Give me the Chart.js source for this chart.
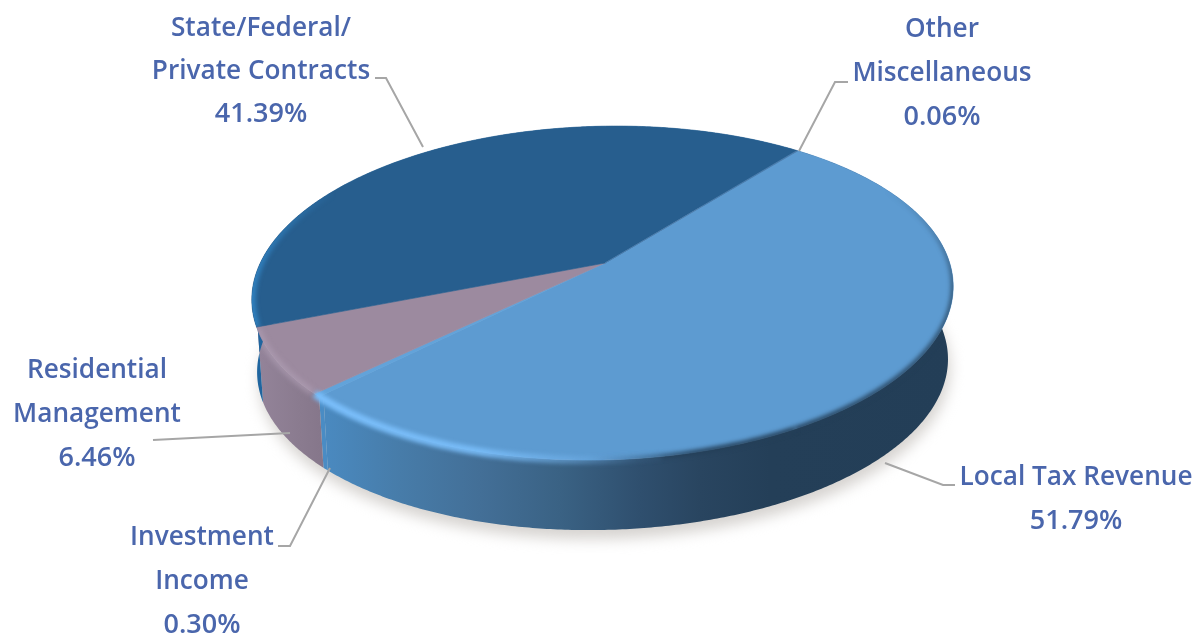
<!DOCTYPE html>
<html>
<head>
<meta charset="utf-8">
<title>Revenue by source</title>
<style>
    html, body { margin: 0; padding: 0; background: #ffffff; }
    canvas { display: block; }
</style>
<script src="https://cdn.jsdelivr.net/npm/chart.js@4"></script>
</head>
<body>
<canvas id="revenuePie" width="1202" height="636"></canvas>
<script>
/* ==========================================
        DATA
========================================== */

const categories = [
    ["Local Tax Revenue"],
    ["Investment", "Income"],
    ["Residential", "Management"],
    ["State/Federal/", "Private Contracts"],
    ["Other", "Miscellaneous"]
];

const shares = [51.79, 0.30, 6.46, 41.39, 0.06];

const faceColors = ["#5d9bd1", "#62a3da", "#9c8a9f", "#275e8e", "#4f7fae"];

/* ==========================================
        LABEL LAYOUT
========================================== */

const labelCenters = [1076, 202, 97, 261, 942];

const labelBaselines = [485, 545, 378, 36, 37];

const labelLineSteps = [44, 44, 44, 43, 44];

const leaderPaths = [
    [[955, 485], [943, 485], [885, 463]],
    [[278, 546], [290, 546], [330, 468]],
    [[153, 440], [290, 433]],
    [[375, 78], [386, 78], [423, 147]],
    [[848, 82], [835, 82], [799, 151]]
];

/* ==========================================
        DISC PROJECTION
========================================== */

const apexX = 605;
const apexY = 263;
const discRx = 344.7;
const discRy = 161.6;
const discSkew = -13.4;
const tilt = 0.18;

const wallDrop = 73;
const wallShrink = 0.985;

const rad = Math.PI / 180;

// the bevel pulls the wall seams back a little from the face seams
const wallAngleShift = -1.1 * rad;

function project(angle) {

    const c = Math.cos(angle);
    const s = Math.sin(angle);
    const w = 1 - tilt * s;

    return [
        apexX + (discRx * c + discSkew * s) / w,
        apexY + discRy * s / w
    ];

}

function projectBottom(angle) {

    const p = project(angle);

    return [
        apexX + (p[0] - apexX) * wallShrink,
        apexY + (p[1] - apexY) * wallShrink + wallDrop
    ];

}

function traceRim(ctx, from, to, pointAt, move) {

    const steps = Math.max(2, Math.ceil(Math.abs(to - from) / (0.5 * rad)));

    for (let i = 0; i <= steps; i++) {

        const p = pointAt(from + (to - from) * i / steps);

        if (i === 0 && move) {
            ctx.moveTo(p[0], p[1]);
        } else {
            ctx.lineTo(p[0], p[1]);
        }

    }

}

function xGradient(ctx, stops) {

    const g = ctx.createLinearGradient(250, 0, 955, 0);

    stops.forEach(s => g.addColorStop((s[0] - 250) / 705, s[1]));

    return g;

}

/* ==========================================
        DRAW PARTS
========================================== */

function drawShadow(ctx) {

    ctx.save();
    ctx.filter = "blur(7px)";
    ctx.fillStyle = "#d6d3d0";
    ctx.beginPath();
    traceRim(ctx, 0, Math.PI * 2, a => {
        const p = projectBottom(a);
        return [p[0] + 2, p[1] + 9];
    }, true);
    ctx.closePath();
    ctx.fill();
    ctx.restore();

}

function wallFill(ctx, index) {

    if (index === 0) {
        return xGradient(ctx, [
            [328, "#4a89bf"],
            [400, "#477ca9"],
            [480, "#436f97"],
            [560, "#3a6284"],
            [640, "#2f4f6e"],
            [700, "#294560"],
            [770, "#243f58"],
            [955, "#233e57"]
        ]);
    }

    if (index === 1) {
        return "#4a8cc4";
    }

    if (index === 2) {
        return xGradient(ctx, [
            [255, "#94849a"],
            [300, "#8a7b8f"],
            [330, "#847589"]
        ]);
    }

    if (index === 3) {
        return "#1f659f";
    }

    return faceColors[index];

}

function drawWalls(ctx, arcs) {

    arcs.forEach((arc, i) => {

        const from = arc.startAngle + wallAngleShift;
        const to = arc.endAngle + wallAngleShift;

        ctx.beginPath();
        traceRim(ctx, from, to, project, true);
        traceRim(ctx, to, from, projectBottom, false);
        ctx.closePath();
        ctx.fillStyle = wallFill(ctx, i);
        ctx.fill();

    });

}

function drawFaces(ctx, arcs) {

    arcs.forEach((arc, i) => {

        ctx.beginPath();
        ctx.moveTo(apexX, apexY);
        traceRim(ctx, arc.startAngle, arc.endAngle, project, false);
        ctx.closePath();
        ctx.fillStyle = faceColors[i];
        ctx.fill();
        ctx.strokeStyle = faceColors[i];
        ctx.lineWidth = 0.6;
        ctx.stroke();

    });

}

function strokeRim(ctx, from, to, style, width, blur) {

    ctx.save();

    // keep the soft rim strokes from spilling past the disc and its wall
    ctx.beginPath();
    traceRim(ctx, 0, Math.PI * 2, project, true);
    ctx.closePath();
    traceRim(ctx, 0, Math.PI * 2, projectBottom, true);
    ctx.closePath();
    ctx.clip();

    ctx.filter = "blur(" + blur + "px)";
    ctx.strokeStyle = style;
    ctx.lineWidth = width;
    ctx.lineCap = "butt";
    ctx.beginPath();
    traceRim(ctx, from, to, project, true);
    ctx.stroke();
    ctx.restore();

}

function drawBevels(ctx, arcs) {

    const investment = arcs[1];
    const residential = arcs[2];
    const contracts = arcs[3];

    // soft dark fall-off on the right of the rim
    const shade = ctx.createLinearGradient(0, 190, 0, 440);
    shade.addColorStop(0, "rgba(36,63,88,0)");
    shade.addColorStop(0.4, "rgba(36,63,88,0.7)");
    shade.addColorStop(1, "rgba(36,63,88,1)");
    strokeRim(ctx, -35 * rad, 60 * rad, shade, 5, 2);

    strokeRim(ctx, 60 * rad, 108 * rad, xGradient(ctx, [
        [590, "rgba(36,63,88,0)"],
        [700, "rgba(36,63,88,1)"]
    ]), 5, 2);

    // pale catch light along the front of the rim
    strokeRim(ctx, 80 * rad, investment.endAngle, xGradient(ctx, [
        [322, "rgba(122,190,250,1)"],
        [480, "rgba(122,190,250,0.9)"],
        [570, "rgba(115,178,235,0.5)"],
        [640, "rgba(100,160,215,0.15)"],
        [700, "rgba(100,160,215,0)"]
    ]), 8, 2);

    strokeRim(ctx, residential.startAngle + 0.01, residential.endAngle - 0.01, "rgba(176,160,182,0.6)", 7, 2.5);

    // the wedge path clips this one so it stays on the top face
    ctx.save();
    ctx.beginPath();
    ctx.moveTo(apexX, apexY);
    traceRim(ctx, contracts.startAngle, contracts.endAngle, project, false);
    ctx.closePath();
    ctx.clip();
    strokeRim(ctx, contracts.startAngle, contracts.startAngle + 50 * rad, xGradient(ctx, [
        [252, "rgba(48,128,190,1)"],
        [290, "rgba(48,128,190,0.5)"],
        [340, "rgba(48,128,190,0)"]
    ]), 8, 2);
    ctx.restore();

}

function drawLabels(ctx) {

    ctx.save();

    leaderPaths.forEach(path => {

        ctx.beginPath();
        path.forEach((p, i) => i ? ctx.lineTo(p[0], p[1]) : ctx.moveTo(p[0], p[1]));
        ctx.strokeStyle = "#a6a6a6";
        ctx.lineWidth = 2;
        ctx.stroke();

    });

    ctx.fillStyle = "#4a66ac";
    ctx.textAlign = "center";
    ctx.textBaseline = "alphabetic";

    categories.forEach((lines, i) => {

        ctx.font = "600 26.2px 'Open Sans'";

        lines.forEach((row, r) => {
            ctx.fillText(row, labelCenters[i], labelBaselines[i] + r * labelLineSteps[i]);
        });

        ctx.font = "600 27px 'Open Sans'";

        ctx.fillText(
            shares[i].toFixed(2) + "%",
            labelCenters[i],
            labelBaselines[i] + lines.length * labelLineSteps[i]
        );

    });

    ctx.restore();

}

/* ==========================================
        PLUGIN
========================================== */

const tiltedPie = {

    id: "tiltedPie",

    beforeDatasetsDraw(chart) {

        const ctx = chart.ctx;
        const arcs = chart.getDatasetMeta(0).data;

        drawShadow(ctx);
        drawWalls(ctx, arcs);
        drawFaces(ctx, arcs);
        drawBevels(ctx, arcs);
        drawLabels(ctx);

        return false;

    }

};

/* ==========================================
        CREATE CHART
========================================== */

new Chart(document.getElementById("revenuePie").getContext("2d"), {

    type: "pie",

    data: {
        labels: categories.map(lines => lines.join(" ")),
        datasets: [{
            data: shares,
            backgroundColor: faceColors,
            borderWidth: 0
        }]
    },

    options: {
        responsive: false,
        animation: false,
        rotation: 37.5,
        plugins: {
            legend: { display: false },
            tooltip: { enabled: false }
        }
    },

    plugins: [tiltedPie]

});
</script>
</body>
</html>
